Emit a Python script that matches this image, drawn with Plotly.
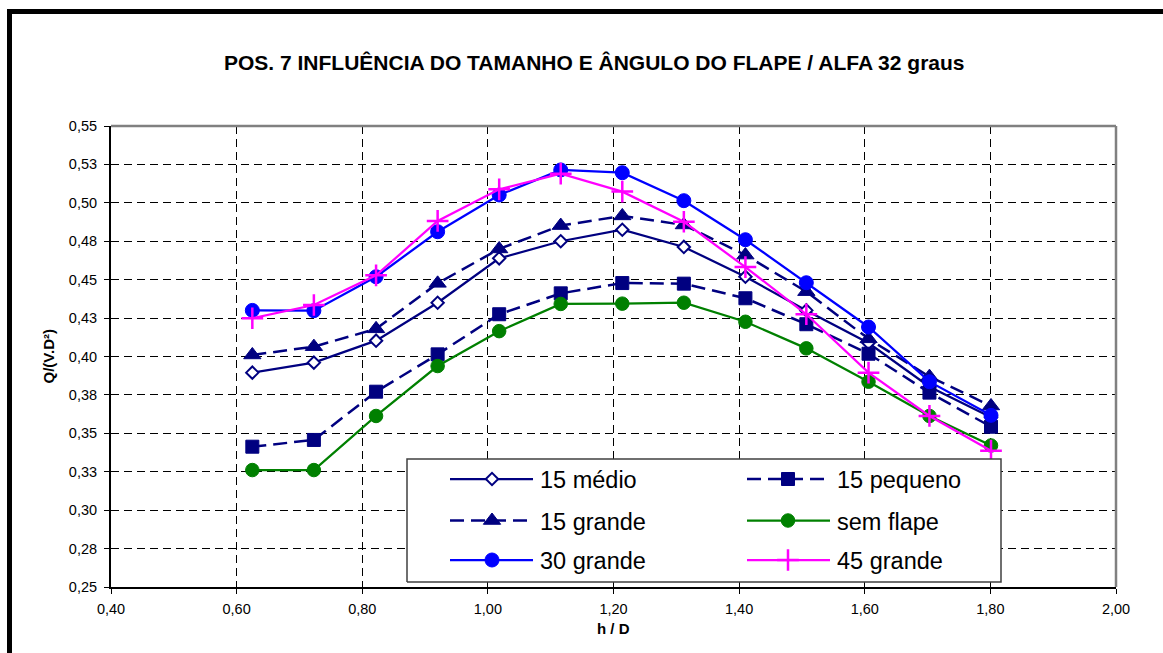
import plotly.graph_objects as go

# ---------------- data ----------------
hD = [0.625, 0.723, 0.822, 0.920, 1.018, 1.116, 1.214, 1.312, 1.410, 1.507, 1.606, 1.703, 1.801]

medio_15 = [0.3895, 0.3960, 0.4103, 0.4350, 0.4639, 0.4750, 0.4825, 0.4713, 0.4519, 0.4300, 0.4088, 0.3803, 0.3605]
pequeno_15 = [0.3413, 0.3457, 0.3771, 0.4014, 0.4275, 0.4411, 0.4478, 0.4474, 0.4379, 0.4210, 0.4018, 0.3765, 0.3543]
grande_15 = [0.4010, 0.4064, 0.4180, 0.4476, 0.4700, 0.4852, 0.4915, 0.4856, 0.4660, 0.4422, 0.4115, 0.3869, 0.3678]
sem_flape = [0.3261, 0.3261, 0.3613, 0.3938, 0.4165, 0.4342, 0.4344, 0.4350, 0.4226, 0.4053, 0.3836, 0.3613, 0.3421]
grande_30 = [0.4300, 0.4298, 0.4519, 0.4812, 0.5051, 0.5214, 0.5196, 0.5014, 0.4760, 0.4480, 0.4192, 0.3836, 0.3617]
grande_45 = [0.4249, 0.4335, 0.4528, 0.4882, 0.5088, 0.5190, 0.5073, 0.4877, 0.4582, 0.4275, 0.3895, 0.3613, 0.3387]

series_names = ["15 médio", "15 pequeno", "15 grande", "sem flape", "30 grande", "45 grande"]
series_values = [medio_15, pequeno_15, grande_15, sem_flape, grande_30, grande_45]

x_tickvals = [0.40, 0.60, 0.80, 1.00, 1.20, 1.40, 1.60, 1.80, 2.00]
x_ticktext = ["0,40", "0,60", "0,80", "1,00", "1,20", "1,40", "1,60", "1,80", "2,00"]
y_tickvals = [0.25, 0.275, 0.30, 0.325, 0.35, 0.375, 0.40, 0.425, 0.45, 0.475, 0.50, 0.525, 0.55]
y_ticktext = ["0,25", "0,28", "0,30", "0,33", "0,35", "0,38", "0,40", "0,43", "0,45", "0,48", "0,50", "0,53", "0,55"]

title_text = "POS. 7 INFLUÊNCIA DO TAMANHO E ÂNGULO DO FLAPE / ALFA 32 graus"
x_title = "h / D"
y_title = "Q/(V.D²)"

# ---------------- styles ----------------
NAVY = "#000080"
BLUE = "#0000FF"
GREEN = "#008000"
MAGENTA = "#FF00FF"
DASH = "14px,7px"
FONT = "Liberation Sans, Arial, sans-serif"

styles = [
    dict(line=dict(color=NAVY, width=2.25),
         marker=dict(symbol="diamond", size=9.5, color="white", line=dict(color=NAVY, width=2))),
    dict(line=dict(color=NAVY, width=2.5, dash=DASH),
         marker=dict(symbol="square", size=13, color=NAVY, line=dict(color=NAVY, width=1))),
    dict(line=dict(color=NAVY, width=2.5, dash=DASH),
         marker=dict(symbol="triangle-up", size=15, color=NAVY, line=dict(color=NAVY, width=1))),
    dict(line=dict(color=GREEN, width=2.25),
         marker=dict(symbol="circle", size=13.5, color=GREEN, line=dict(color=GREEN, width=1))),
    dict(line=dict(color=BLUE, width=2.25),
         marker=dict(symbol="circle", size=14, color=BLUE, line=dict(color=BLUE, width=1))),
    dict(line=dict(color=MAGENTA, width=2.25),
         marker=dict(symbol="cross-thin", size=15.5, color=MAGENTA, line=dict(color=MAGENTA, width=2.5))),
]

# ---------------- geometry (pixels) ----------------
W, H = 1163, 653
L, R, T, B = 111, 1116, 126, 587


def fx(px):
    return (px - L) / (R - L)


def fy(py):
    return (B - py) / (B - T)


fig = go.Figure()

for name, vals, st in zip(series_names, series_values, styles):
    fig.add_trace(go.Scatter(x=hD, y=vals, mode="lines+markers", name=name,
                             line=st["line"], marker=st["marker"],
                             showlegend=False, cliponaxis=False))

# ---------------- custom legend (Excel style) ----------------
# legend box (white, covers gridlines) drawn on an overlay unit axis
bx0, bx1, by0, by1 = fx(407), fx(1001), fy(582), fy(459)
fig.add_trace(go.Scatter(x=[bx0, bx1, bx1, bx0, bx0], y=[by0, by0, by1, by1, by0],
                         mode="lines", fill="toself", fillcolor="white",
                         line=dict(color="#404040", width=1.5), xaxis="x2", yaxis="y2",
                         showlegend=False, hoverinfo="skip", cliponaxis=False))

leg_rows = [479, 520.5, 560]
leg_cols = [(450, 533, 492, 538), (747, 830, 788, 835)]
leg_order = [0, 2, 4, 1, 3, 5]
annotations = []
for k, idx in enumerate(leg_order):
    col = leg_cols[k // 3]
    row = leg_rows[k % 3]
    st = styles[idx]
    fig.add_trace(go.Scatter(x=[fx(col[0]), fx(col[1])], y=[fy(row), fy(row)], mode="lines",
                             line=st["line"], xaxis="x2", yaxis="y2", showlegend=False,
                             hoverinfo="skip", cliponaxis=False))
    fig.add_trace(go.Scatter(x=[fx(col[2])], y=[fy(row)], mode="markers",
                             marker=st["marker"], xaxis="x2", yaxis="y2", showlegend=False,
                             hoverinfo="skip", cliponaxis=False))
    annotations.append(dict(x=fx(col[3]), y=fy(row + 1), xref="paper", yref="paper",
                            text=series_names[idx], showarrow=False, xanchor="left",
                            yanchor="middle", font=dict(family=FONT, size=23.5, color="black")))

# title + axis titles
annotations.append(dict(x=fx(594.5), y=fy(63), xref="paper", yref="paper", text=title_text,
                        showarrow=False, xanchor="center", yanchor="middle",
                        font=dict(family=FONT, size=21, color="black", weight="bold")))
annotations.append(dict(x=fx(613.5), y=fy(628), xref="paper", yref="paper", text=x_title,
                        showarrow=False, xanchor="center", yanchor="middle",
                        font=dict(family=FONT, size=15, color="black", weight="bold")))
annotations.append(dict(x=fx(48), y=fy(356.5), xref="paper", yref="paper", text=y_title,
                        showarrow=False, xanchor="center", yanchor="middle", textangle=-90,
                        font=dict(family=FONT, size=15, color="black", weight="bold")))

shapes = [
    # gray top/right border of plot area
    dict(type="line", xref="paper", yref="paper", x0=0, x1=1, y0=1, y1=1,
         line=dict(color="#808080", width=2.5), layer="above"),
    dict(type="line", xref="paper", yref="paper", x0=1, x1=1, y0=0, y1=1,
         line=dict(color="#808080", width=2.5), layer="above"),
    # thick black outer frame (top and left)
    dict(type="line", xref="paper", yref="paper", x0=fx(7), x1=fx(1175), y0=fy(11.5), y1=fy(11.5),
         line=dict(color="black", width=5), layer="above"),
    dict(type="line", xref="paper", yref="paper", x0=fx(9.5), x1=fx(9.5), y0=fy(9), y1=fy(665),
         line=dict(color="black", width=5), layer="above"),
]

axis_common = dict(showgrid=True, gridcolor="black", gridwidth=1, griddash="8px,5px",
                   zeroline=False, showline=True, linecolor="black", linewidth=2,
                   ticks="outside", ticklen=5, tickwidth=1, tickcolor="black",
                   tickfont=dict(family=FONT, size=14.5, color="black"), fixedrange=True)

fig.update_layout(
    width=W, height=H,
    margin=dict(l=L, r=W - R, t=T, b=H - B, pad=0),
    paper_bgcolor="white", plot_bgcolor="white",
    showlegend=False,
    xaxis=dict(range=[0.4, 2.0], tickmode="array", tickvals=x_tickvals, ticktext=x_ticktext,
               ticklabelstandoff=3, **axis_common),
    yaxis=dict(range=[0.25, 0.55], tickmode="array", tickvals=y_tickvals, ticktext=y_ticktext,
               ticklabelstandoff=4, **axis_common),
    xaxis2=dict(overlaying="x", range=[0, 1], visible=False, fixedrange=True),
    yaxis2=dict(overlaying="y", range=[0, 1], visible=False, fixedrange=True),
    annotations=annotations,
    shapes=shapes,
    font=dict(family=FONT, color="black"),
)

fig.write_html("out.html")
